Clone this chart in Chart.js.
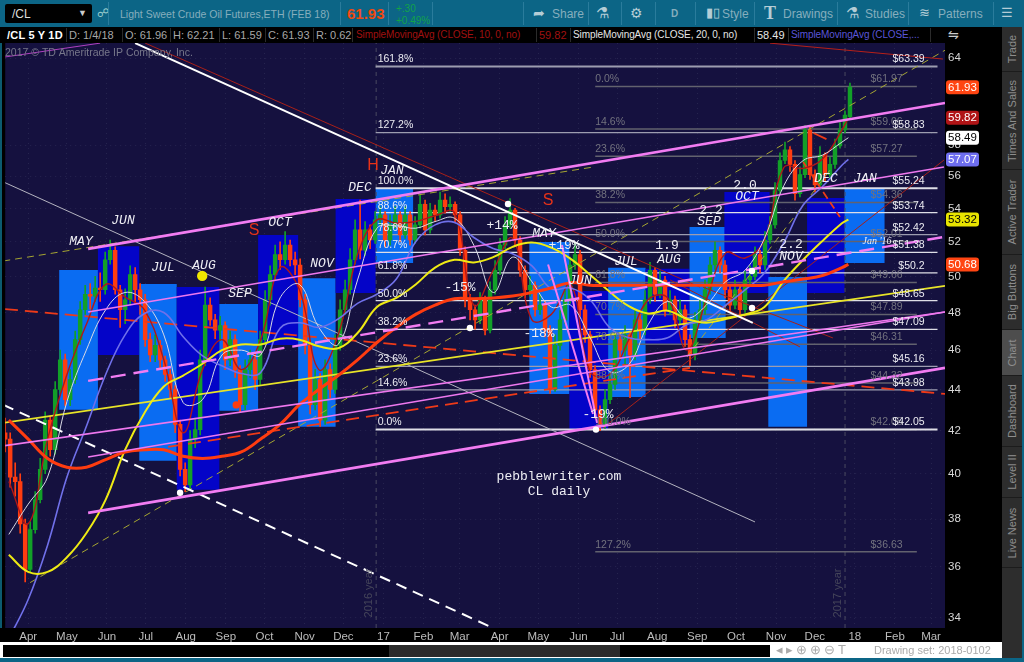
<!DOCTYPE html>
<html>
<head>
<meta charset="utf-8">
<style>
  html, body { margin: 0; padding: 0; background: #000; }
  #frame { position: relative; width: 1024px; height: 662px; overflow: hidden; font-family: "Liberation Sans", sans-serif; }
  canvas { position: absolute; left: 0; top: 0; }
  .abs { position: absolute; white-space: nowrap; }
  #toolbar { left: 0; top: 0; width: 1024px; height: 27px; background: #0c6586; color: #86aebd; font-size: 12px; }
  #toolbar .sep { position: absolute; top: 2px; width: 1px; height: 23px; background: #2a7c9c; }
  #toolbar span { position: absolute; top: 7px; white-space: nowrap; }
  #legend { left: 0; top: 27px; width: 1002px; height: 16px; background: #000; font-size: 11px; color: #a8a8a8; }
  #legend span { position: absolute; top: 1px; height: 14px; line-height: 14px; white-space: nowrap; }
  #legend span.sma { font-size: 10px; letter-spacing: -.1px; }
  #legend i { position: absolute; top: 1px; width: 1px; height: 14px; background: #2b2b2b; }
  #side { left: 1002px; top: 27px; width: 20px; height: 635px; background: #2d2d2d; }
  #strip { left: 1022px; top: 0; width: 2px; height: 662px; background: #0c6586; }
  #side div { position: absolute; left: 0; width: 20px; border-bottom: 1px solid #1c1c1c; box-sizing: border-box; }
  #side span { position: absolute; left: 10px; top: 50%; transform: translate(-50%, -50%) rotate(-90deg); font-size: 11px; color: #8d8d8d; white-space: nowrap; }
  #bottom { left: 0; top: 642px; width: 1002px; height: 16px; background: #fff; }
  #track { position: absolute; left: 3px; top: 3px; width: 767px; height: 12px; background: #000; }
  #thumb { position: absolute; left: 386px; top: 0; width: 231px; height: 12px; background: #2b2b2b; }
  #dset { position: absolute; left: 874px; top: 2px; font-size: 11px; color: #aaa; }
  #tools { position: absolute; left: 776px; top: 0; font-size: 13px; color: #aaa; letter-spacing: 3px; }
  #teal { left: 0; top: 658px; width: 1024px; height: 4px; background: #0c6586; }
  #leftedge { left: 0; top: 43px; width: 2px; height: 585px; background: #0c5a70; }
</style>
</head>
<body>
<div id="frame">
  <canvas id="chart" width="1024" height="662"></canvas>
  <div class="abs" id="leftedge"></div>
  <div class="abs" id="toolbar">
    <div style="position:absolute;left:5px;top:4px;width:87px;height:19px;background:#000;border-radius:2px"></div>
    <span style="left:12px;top:7px;color:#ddd;font-size:12px">/CL</span>
    <span style="left:78px;top:8px;color:#ccc;font-size:9px">&#9660;</span>
    <span style="left:97px;top:6px;color:#9cc;font-size:12px">&#9741;</span>
    <div class="sep" style="left:108px"></div>
    <span style="left:120px;top:8px;font-size:10.5px">Light Sweet Crude Oil Futures,ETH (FEB 18)</span>
    <div class="sep" style="left:340px"></div>
    <span style="left:347px;top:5px;color:#f04a10;font-size:15px;font-weight:bold">61.93</span>
    <div class="sep" style="left:388px"></div>
    <span style="left:396px;top:3px;color:#12a24a;font-size:10px">+.30</span>
    <span style="left:396px;top:15px;color:#12a24a;font-size:10px">+0.49%</span>
    <div class="sep" style="left:432px"></div>
    <div class="sep" style="left:523px"></div>
    <span style="left:533px;top:5px;font-size:14px;color:#b5cdd6">&#10150;</span>
    <span style="left:552px">Share</span>
    <div class="sep" style="left:588px"></div>
    <span style="left:596px;top:4px;font-size:15px;color:#b5cdd6;font-family:'DejaVu Sans'">&#9879;</span>
    <div class="sep" style="left:621px"></div>
    <span style="left:630px;top:5px;font-size:14px;color:#b5cdd6;font-family:'DejaVu Sans'">&#9881;</span>
    <div class="sep" style="left:655px"></div>
    <span style="left:671px;font-weight:bold;font-size:10px;top:8px">D</span>
    <div class="sep" style="left:695px"></div>
    <span style="left:706px;top:5px;font-size:13px;color:#b5cdd6">&#9646;&#9647;</span>
    <span style="left:722px">Style</span>
    <div class="sep" style="left:754px"></div>
    <span style="left:764px;top:3px;font-size:18px;font-weight:bold;color:#b5cdd6;font-family:'Liberation Serif'">T</span>
    <span style="left:783px">Drawings</span>
    <div class="sep" style="left:837px"></div>
    <span style="left:846px;top:4px;font-size:15px;color:#b5cdd6;font-family:'DejaVu Sans'">&#9879;</span>
    <span style="left:865px">Studies</span>
    <div class="sep" style="left:908px"></div>
    <span style="left:919px;top:5px;font-size:13px;color:#b5cdd6;font-family:'DejaVu Sans'">&#8779;</span>
    <span style="left:938px">Patterns</span>
    <div class="sep" style="left:993px"></div>
    <span style="left:1001px;top:5px;font-size:13px;color:#b5cdd6;font-family:'DejaVu Sans'">&#9776;</span>
  </div>
  <div class="abs" id="legend">
    <span style="left:7px;color:#fff;font-weight:bold;letter-spacing:.2px">/CL 5 Y 1D</span><i style="left:66px"></i>
    <span style="left:69px">D: 1/4/18</span><i style="left:122px"></i>
    <span style="left:125px">O: 61.96</span><i style="left:170px"></i>
    <span style="left:173px">H: 62.21</span><i style="left:219px"></i>
    <span style="left:222px">L: 61.59</span><i style="left:265px"></i>
    <span style="left:268px">C: 61.93</span><i style="left:313px"></i>
    <span style="left:316px">R: 0.62</span><i style="left:352px"></i>
    <span class="sma" style="left:356px;color:#a01010">SimpleMovingAvg (CLOSE, 10, 0, no)</span><i style="left:536px"></i>
    <span style="left:539px;color:#a01010">59.82</span><i style="left:570px"></i>
    <span class="sma" style="left:573px;color:#e6e6e6">SimpleMovingAvg (CLOSE, 20, 0, no)</span><i style="left:754px"></i>
    <span style="left:757px;color:#e6e6e6">58.49</span><i style="left:788px"></i>
    <span class="sma" style="left:791px;color:#5a55d8">SimpleMovingAvg (CLOSE,...</span><i style="left:930px"></i>
    <span style="left:948px;color:#ccc;font-size:13px;font-family:'DejaVu Sans'">&#8651;</span>
  </div>
  <div class="abs" id="side">
    <div style="top:0;height:45px"><span>Trade</span></div>
    <div style="top:45px;height:98px"><span>Times And Sales</span></div>
    <div style="top:143px;height:85px"><span>Active Trader</span></div>
    <div style="top:228px;height:75px"><span>Big Buttons</span></div>
    <div style="top:303px;height:46px;background:#4d4d4d"><span>Chart</span></div>
    <div style="top:349px;height:71px"><span>Dashboard</span></div>
    <div style="top:420px;height:51px"><span>Level II</span></div>
    <div style="top:471px;height:70px"><span>Live News</span></div>
  </div>
  <div class="abs" id="strip"></div>
  <div class="abs" id="bottom">
    <div id="track"><div id="thumb"></div></div>
    <div id="tools">&#9666;&#9656;&#8853;&#8853;&#8854;T</div>
    <div id="dset">Drawing set: 2018-0102</div>
  </div>
  <div class="abs" id="teal"></div>
</div>

<script src="https://cdn.jsdelivr.net/npm/chart.js@4/dist/chart.umd.min.js"></script>
<script>
// x values are days counted from 1 Apr 2016, y values are prices
const monthTickDays = [0, 30, 61, 91, 122, 153, 183, 214, 244, 275, 306, 334, 365, 395, 426, 456, 487, 518, 548, 579, 609, 640, 671, 699];
const monthTickLabels = ['Apr', 'May', 'Jun', 'Jul', 'Aug', 'Sep', 'Oct', 'Nov', 'Dec', '17', 'Feb', 'Mar', 'Apr', 'May', 'Jun', 'Jul', 'Aug', 'Sep', 'Oct', 'Nov', 'Dec', '18', 'Feb', 'Mar'];
const priceTicks = [34, 36, 38, 40, 42, 44, 46, 48, 50, 52, 54, 56, 58, 64];

// monthly range boxes
const boxStart = [24, 54, 86, 115, 148, 178, 209, 238, 269, 388, 419, 449, 478, 512, 539, 573, 603, 632];
const boxEnd = [54, 86, 115, 148, 178, 209, 238, 269, 298, 419, 449, 478, 512, 540, 574, 603, 632, 663];
const boxHigh = [50.37, 51.74, 49.58, 49.4, 48.47, 52.4, 49.9, 54.57, 55.26, 51.98, 49.18, 50.49, 50.43, 52.88, 55, 49.97, 54.63, 55.26];
const boxLow = [43, 45.75, 40.59, 39.28, 42.95, 46.27, 42.18, 49.07, 50.77, 43.78, 42.08, 43.63, 46.27, 46.64, 49.07, 42.18, 49.07, 50.77];
const boxIsDark = [false, true, false, true, false, true, false, true, false, false, true, false, true, false, true, false, true, false];

// fibonacci levels
const fibPrices = [63.39, 58.83, 55.24, 53.74, 52.42, 51.38, 50.2, 48.65, 47.09, 45.16, 43.98, 42.05];
const fibPercents = ['161.8%', '127.2%', '100.0%', '88.6%', '78.6%', '70.7%', '61.8%', '50.0%', '38.2%', '23.6%', '14.6%', '0.0%'];
const fibTags = ['$63.39', '$58.83', '$55.24', '$53.74', '$52.42', '$51.38', '$50.2', '$48.65', '$47.09', '$45.16', '$43.98', '$42.05'];
const fibSpan = [269, 704];
const fib2Prices = [61.97, 59.06, 57.27, 54.36, 52.01, 49.66, 47.89, 46.31, 44.32, 42.05, 36.63];
const fib2Percents = ['0.0%', '14.6%', '23.6%', '38.2%', '50.0%', '61.8%', '70.7%', '78.6%', '88.6%', '100.0%', '127.2%'];
const fib2Tags = ['$61.97', '$59.06', '$57.27', '$54.36', '$52.01', '$49.66', '$47.89', '$46.31', '$44.32', '$42.05', '$36.63'];
const fib2Span = [439, 688];

// daily bars, thinned out
const candleFirstDay = -17.8;
const candleStep = 3.87;
const candleOpen = [
  41.9,41.6,39.85,39.65,37.8,35.9,37.55,38.85,40.2,42.5,
  41.1,44,45.5,43.5,44.5,46.55,48.15,49,48.9,49.35,
  49.25,50.95,51.5,49.25,48.15,48.7,50.1,49.25,48.7,46.55,
  45.75,46.25,45.5,44.75,44,42.3,40.2,39.5,41.6,42.05,
  45.5,48.4,47.6,47.05,47.3,45.5,46.55,45,43.25,45,
  45.5,44.5,46.55,48.7,50.1,51.25,50.95,51.8,50.95,50.65,
  48.7,46.25,43.25,44.5,42.5,45,44,46.25,48.15,49.25,
  50.95,52.7,51.5,52.7,52.1,53.3,53.6,52.1,53,53.6,
  52.4,53.6,52.1,53,54.25,52.7,53.9,53.6,54.5,54.1,
  54.25,53.6,51.5,48.7,48.15,47.6,48.7,47.05,49.25,50.35,
  51.8,53,53.9,52.1,50.35,49.25,49.5,48.15,48.4,47.05,
  44,46.25,47.6,48.7,50.65,51.25,48.15,46.8,45,43,
  42.3,43.5,44.25,46.55,46,46.8,45.75,47.6,47.05,48.7,
  50.35,49,49.8,48.15,48.7,47.6,48.15,46.55,45.75,47.6,
  48.15,49.25,50.65,51.5,50.65,49.25,48.4,49.25,48.15,49.8,
  50,51.25,50.65,52.1,53,55.1,57,57.7,56.75,54.9,
  56.1,59,56.1,55.45,57.35,56.1,56.75,57.95,59,59.9];
const candleClose = [
  41.6,39.85,39.65,37.8,35.9,37.55,38.85,40.2,42.5,41.1,
  44,45.5,43.5,44.5,46.55,48.15,49,48.9,49.35,49.25,
  50.95,51.5,49.25,48.15,48.7,50.1,49.25,48.7,46.55,45.75,
  46.25,45.5,44.75,44,42.3,40.2,39.5,41.6,42.05,45.5,
  48.4,47.6,47.05,47.3,45.5,46.55,45,43.25,45,45.5,
  44.5,46.55,48.7,50.1,51.25,50.95,51.8,50.95,50.65,48.7,
  46.25,43.25,44.5,42.5,45,44,46.25,48.15,49.25,50.95,
  52.7,51.5,52.7,52.1,53.3,53.6,52.1,53,53.6,52.4,
  53.6,52.1,53,54.25,52.7,53.9,53.6,54.5,54.1,54.25,
  53.6,51.5,48.7,48.15,47.6,48.7,47.05,49.25,50.35,51.8,
  53,53.9,52.1,50.35,49.25,49.5,48.15,48.4,47.05,44,
  46.25,47.6,48.7,50.65,51.25,48.15,46.8,45,43,42.3,
  43.5,44.25,46.55,46,46.8,45.75,47.6,47.05,48.7,50.35,
  49,49.8,48.15,48.7,47.6,48.15,46.55,45.75,47.6,48.15,
  49.25,50.65,51.5,50.65,49.25,48.4,49.25,48.15,49.8,50,
  51.25,50.65,52.1,53,55.1,57,57.7,56.75,54.9,56.1,
  59,56.1,55.45,57.35,56.1,56.75,57.95,59,60,61.93];
const candleLow = [
  41,39.4,39,37.4,35.4,35.8,37.4,38.7,40,40.8,
  40.9,43.8,43.2,43.2,44.3,46.3,47.9,48.2,48.6,48.6,
  49,50.7,49,47.2,47.4,48.4,48.5,47.9,46.2,45.4,
  45.4,45,44.4,43.6,41.9,39.9,39.2,39.3,41.2,41.8,
  45.2,47.3,46.6,46.5,45,45.2,44.6,42.9,43,44.6,
  44,44.2,46.3,48.4,49.8,50.4,50.7,50.6,50.1,48.3,
  45.8,42.8,43,42.2,42.3,43.6,43.8,46,47.9,49,
  50.7,51,51.2,51.6,51.9,53,51.7,51.8,52.8,52,
  52.2,51.8,51.9,52.8,52.4,52.5,53.2,53.4,53.7,53.8,
  53.2,51.2,48.3,47.6,47.1,47.4,46.8,46.9,49,50.1,
  51.6,52.8,51.8,50,48.8,48.9,47.8,47.9,46.7,43.8,
  43.9,46,47.4,48.5,50.4,47.8,46.4,44.6,42.6,42,
  42.1,43.3,44,45.6,45.2,43.6,45.5,46.6,46.8,48.5,
  48.6,48.8,47.8,47.9,47.2,47.4,46.2,45.2,45.5,47.4,
  47.9,49,50.4,50.2,48.8,48,48.2,47.8,48,49.5,
  49.8,50.2,50.4,51.9,52.8,54.9,56.8,56.3,54.5,54.7,
  55.9,55.8,55,55.3,55.7,55.9,56.5,57.8,58.8,59.8];
const candleHigh = [
  42.6,41.9,40.5,40,38,37.9,39.2,40.7,42.9,42.7,
  44.4,46,45.8,45,47,48.6,49.5,49.6,50,50.2,
  51.4,52.1,51.7,49.5,49.3,50.6,50.5,49.6,49,46.9,
  46.8,46.5,45.7,45,44.2,42.5,40.5,42,42.6,46,
  49.4,48.8,47.9,47.8,47.5,47,46.8,45.2,45.5,46,
  45.8,47,49.2,50.6,51.8,52,52.6,52.1,51.4,51,
  49,46.5,45,44.8,45.5,45.3,46.8,48.7,49.8,51.6,
  53.3,54.5,53.2,53,53.8,54.1,53.8,53.6,54.1,53.8,
  54.1,53.8,53.5,54.8,54.5,54.3,54.2,55,54.9,54.7,
  54.4,53.8,51.7,49,48.4,49.1,48.9,49.7,50.9,52.2,
  53.5,54.6,54,52.3,50.6,50,49.7,49,48.6,47.3,
  46.8,48.1,49.2,51.1,51.9,51.5,48.4,47,45.2,43.2,
  44,44.8,47,46.9,47.3,47,48.1,47.9,49.2,50.8,
  50.5,50.3,50,49.2,48.9,48.7,48.4,46.8,48,48.7,
  49.8,51.1,52,51.7,50.9,49.5,49.8,49.5,50.3,50.6,
  51.7,51.5,52.6,53.5,55.6,57.5,58.2,57.9,57,56.6,
  59.3,59.2,56.4,57.9,57.5,57.2,58.4,59.5,60.3,62.21];

// moving averages, read every 15 days
const smaDays = [-15, 0, 15, 30, 45, 60, 75, 90, 105, 120, 135, 150, 165, 180, 195, 210, 225, 240, 255, 270, 285, 300, 315, 330, 345, 360, 375, 390, 405, 420, 435, 450, 465, 480, 495, 510, 525, 540, 555, 570, 585, 600, 615, 630, 635];
const sma10 = [39.65, 37.8, 41.6, 44.75, 47.35, 49.55, 48.85, 48.15, 45.5, 41.9, 45, 46.55, 45, 46.55, 50.5, 49.25, 45, 46.8, 51.25, 53.3, 53.1, 53.2, 53.55, 53.75, 48.4, 50.35, 52.2, 47.6, 47.9, 49.55, 44.9, 44.75, 46.55, 48.7, 48.8, 46, 48.7, 51.35, 51.05, 52.1, 56.55, 56.5, 57.1, 59, 59.82];
const sma20 = [37.35, 38.65, 39.85, 43.4, 46, 48.15, 49.1, 48.6, 46.8, 43.35, 43.5, 45.75, 46, 45.75, 48.8, 49.55, 47.2, 46.3, 49.8, 52.8, 52.95, 52.8, 53.2, 53.4, 51.8, 49.1, 51.1, 49.7, 48.3, 48.4, 46.65, 44.9, 45.25, 47.35, 48.6, 47.7, 48.4, 49.7, 50.35, 52.2, 55.4, 57, 57.35, 58.2, 58.49];
const sma50 = [33.2, 34.7, 36.9, 39.85, 42.2, 44.75, 46.8, 47.95, 48, 46.7, 45.7, 45.2, 44.8, 44.85, 47.15, 47.45, 47.2, 47.65, 48.5, 49, 49.85, 52, 53, 53.15, 52.25, 51.6, 51.3, 50.6, 49.3, 49.35, 48.7, 47.2, 46.65, 46.55, 46.65, 47.35, 47.6, 48.4, 49.25, 50.2, 51.95, 54.2, 55.35, 56.7, 57.07];
const sma100 = [36.5, 35.8, 35.8, 36.4, 37.4, 38.85, 41.1, 42.85, 44.15, 44.7, 45.3, 46, 46.3, 46.3, 46.6, 46.55, 46.2, 46.1, 46.9, 48.3, 48.8, 49.55, 50.5, 50.95, 50.8, 51.1, 51.7, 51.95, 51.65, 51, 50.1, 49.15, 48.35, 47.95, 48.1, 47.65, 47.45, 47.65, 47.9, 48.3, 49.75, 50.95, 52.05, 53.1, 53.32];
const sma200 = [42.5, 41.6, 40.7, 40.3, 40.3, 40.65, 41, 41.1, 41.1, 40.8, 40.7, 40.8, 41, 41.6, 42.3, 43.25, 44, 44.7, 45.5, 46.4, 47.2, 47.9, 48.4, 48.75, 48.75, 48.8, 48.9, 49.1, 49.35, 49.65, 49.5, 49.5, 49.5, 49.5, 49.5, 49.5, 49.5, 49.5, 49.5, 49.5, 49.7, 49.85, 50.05, 50.5, 50.68];

// drawn trend lines, [day, price] at each end
const channelUpper = [[46.4, 51.58], [709.8, 60.83]];
const channelMiddle = [[46.4, 48.03], [709, 56.58]];
const channelDashed = [[46.4, 44.43], [709, 52.28]];
const channelLowerA = [[-18.6, 41.29], [709.8, 48.03]];
const channelLowerB = [[46.4, 40.77], [709.8, 48.03]];
const channelBase = [[46.4, 38.27], [709.8, 45.09]];
const steepPinkA = [[413.3, 51.81], [440.4, 42.37]];
const steepPinkB = [[402.5, 50.68], [437.3, 42.8]];
const yellowLine = [[-19.3, 42.37], [709.8, 49.47]];
const oliveLong = [[1.5, 35.37], [710, 64.58]];
const oliveUpper = [[-19.3, 50.88], [437.3, 56.58]];
const oliveShort = [[510, 45.65], [620.8, 56.39]];
const whiteFall = [[82.8, 65.09], [561, 47.44]];
const greyFall = [[-19.3, 55.64], [562.7, 37.88]];
const whiteDashFall = [[-19.3, 43.24], [360, 33.6]];
const redDashUpper = [[-18, 48.19], [709.8, 43.78]];
const redDashLower = [[108.4, 41.24], [512.4, 45.09]];
const redDashShortA = [[600, 56.9], [628.5, 53.47]];
const redDashShortB = [[608, 58.8], [618, 58.4]];
const redThinA = [[90.6, 65.09], [520, 49.4]];
const redThinB = [[574.3, 65.09], [708.2, 63.93]];
const redThinC = [[445, 42.13], [709, 57.03]];
const redThinD = [[497, 49.8], [597.5, 46.17]];
const redThinE = [[522.4, 49.4], [623, 46.64]];
const purpleTop = [[-18.6, 64.07], [55.7, 65.09]];
const yearLine2016 = [[269.4, 33.6], [269.4, 65.1]];
const yearLine2017 = [[632.4, 33.6], [632.4, 65.1]];

// marked pivots
const whitePivots = [[117.6, 39.15], [342, 47.17], [371.5, 54.27], [439.6, 42.05], [560.4, 50.31], [560.4, 48.25]];
const yellowPivot = [[134.7, 50.03]];
const redPivot = [[161, 43.24]];

// last-value tags on the price axis
const tagValues = [61.93, 59.82, 58.49, 57.07, 53.32, 50.68];
const tagFills = ['#ff4512', '#b01416', '#ffffff', '#6e6ef0', '#e8e400', '#ff4512'];
const tagInks = ['#fff', '#fff', '#000', '#fff', '#000', '#fff'];

// text written on the chart
const monthNotes = [
  ['MAY', 81, 242], ['JUN', 123, 221], ['JUL', 163, 268], ['AUG', 204, 266], ['SEP', 240, 294],
  ['OCT', 280, 223], ['NOV', 322, 264], ['DEC', 360, 188], ['JAN', 392, 171], ['MAY', 544, 234],
  ['JUN', 580, 281], ['JUL', 626, 262], ['AUG', 669, 260], ['SEP', 709, 222], ['OCT', 747, 197],
  ['NOV', 791, 257], ['DEC', 826, 179], ['JAN', 865, 179]];
const plainNotes = [
  ['+14%', 502, 226], ['+19%', 564, 246], ['-15%', 460, 288], ['-18%', 539, 334], ['-19%', 598, 415],
  ['1.9', 667, 246], ['2.2', 711, 211], ['2.0', 745, 186], ['2.2', 791, 245],
  ['pebblewriter.com', 559, 477], ['CL daily', 559, 492]];
const redNotes = [['H', 373, 166], ['S', 254, 231], ['S', 548, 201]];

const dayOfCandle = i => candleFirstDay + i * candleStep;
const toPoints = pairs => pairs.map(p => ({ x: p[0], y: p[1] }));

function lineSet(pairs, color, width, dash) {
  return { type: 'line', data: toPoints(pairs), borderColor: color, borderWidth: width, borderDash: dash || [], pointRadius: 0, tension: 0, fill: false };
}
function smaSet(values, color, width) {
  return {
    type: 'line', data: values.map((v, i) => ({ x: smaDays[i], y: v })), borderColor: color, borderWidth: width,
    pointRadius: 0, tension: 0.4, fill: false
  };
}
function dotSet(pairs, color, radius) {
  return { type: 'line', data: toPoints(pairs), showLine: false, pointRadius: radius, pointBackgroundColor: color, pointBorderWidth: 0 };
}

const datasets = [];

// back to front
boxStart.forEach((start, i) => {
  datasets.push({
    type: 'line',
    data: [{ x: start, y: boxLow[i] }, { x: start, y: boxHigh[i] }, { x: boxEnd[i], y: boxHigh[i] }, { x: boxEnd[i], y: boxLow[i] }],
    borderWidth: 0, borderColor: 'transparent', pointRadius: 0, tension: 0,
    fill: 'shape', backgroundColor: boxIsDark[i] ? '#0404c8' : '#0a6cf2'
  });
});
datasets.push(lineSet(yearLine2016, '#4a4a60', 1, [4, 4]));
datasets.push(lineSet(yearLine2017, '#4a4a60', 1, [4, 4]));

fib2Prices.forEach(p => {
  datasets.push(lineSet([[fib2Span[0], p], [fib2Span[1], p]], '#62626e', 1.5));
});
fibPrices.forEach((p, i) => {
  const heavy = p === 55.24 || p === 42.05 || p === 63.39;
  const dim = p === 63.39 || p === 45.16 || p === 43.98 || p === 58.83 || p === 52.42;
  datasets.push(lineSet([[fibSpan[0], p], [fibSpan[1], p]], dim ? '#9d9db0' : '#dedee6', heavy ? 2 : 1.3));
});

const candleUp = candleClose.map((c, i) => c >= candleOpen[i]);
datasets.push({
  type: 'bar', grouped: false, barThickness: 1, borderWidth: 0,
  data: candleClose.map((c, i) => ({ x: dayOfCandle(i), y: [candleLow[i], candleHigh[i]] })),
  backgroundColor: candleUp.map(up => up ? '#12a028' : '#ff3c10')
});
datasets.push({
  type: 'bar', grouped: false, barThickness: 3.8, borderWidth: 0,
  data: candleClose.map((c, i) => ({ x: dayOfCandle(i), y: [candleOpen[i], candleClose[i]] })),
  backgroundColor: candleUp.map(up => up ? '#12a028' : '#ff3c10')
});

datasets.push(lineSet(oliveLong, '#a6a632', 1, [7, 5]));
datasets.push(lineSet(oliveUpper, '#a6a632', 1, [7, 5]));
datasets.push(lineSet(oliveShort, '#a6a632', 1, [7, 5]));
datasets.push(lineSet(redThinA, '#a82018', 1));
datasets.push(lineSet(redThinB, '#b82018', 1));
datasets.push(lineSet(redThinC, '#a82018', 1));
datasets.push(lineSet(redThinD, '#a82018', 1));
datasets.push(lineSet(redThinE, '#a82018', 1));
datasets.push(lineSet(purpleTop, '#b040c0', 1));
datasets.push(lineSet(greyFall, '#b4b4c0', 1));
datasets.push(lineSet(whiteDashFall, '#ffffff', 2, [11, 7]));
datasets.push(lineSet(redDashUpper, '#ee3a18', 1.8, [13, 7]));
datasets.push(lineSet(redDashLower, '#ee3a18', 1.8, [13, 7]));
datasets.push(lineSet(redDashShortA, '#ee3a18', 1.8, [8, 4]));
datasets.push(lineSet(redDashShortB, '#ee3a18', 1.8));
datasets.push(lineSet(yellowLine, '#e8e428', 1.8));

datasets.push(smaSet(sma10, '#b01618', 1.4));
datasets.push(smaSet(sma20, '#d9d9e4', 1));
datasets.push(smaSet(sma50, '#7070ea', 1.6));
datasets.push(smaSet(sma100, '#eeea14', 2));
datasets.push(smaSet(sma200, '#ff3c10', 3));

datasets.push(lineSet(channelLowerA, '#ee78ee', 1.6));
datasets.push(lineSet(channelLowerB, '#ee78ee', 1.6));
datasets.push(lineSet(channelMiddle, '#ee78ee', 1.6));
datasets.push(lineSet(channelUpper, '#f27cf2', 2.6));
datasets.push(lineSet(channelDashed, '#f27cf2', 2.4, [15, 8]));
datasets.push(lineSet(channelBase, '#f27cf2', 2.6));
datasets.push(lineSet(steepPinkA, '#f27cf2', 2));
datasets.push(lineSet(steepPinkB, '#f27cf2', 2));
datasets.push(lineSet(whiteFall, '#ffffff', 2));

datasets.push(dotSet(whitePivots, '#ffffff', 3.2));
datasets.push(dotSet(yellowPivot, '#f0e800', 5.2));
datasets.push(dotSet(redPivot, '#ff3c10', 3.6));

// first in the list draws last, so flip the order numbers
datasets.forEach((d, i) => { d.order = datasets.length - i; });

const backdrop = {
  id: 'backdrop',
  beforeDraw(chart) {
    const { ctx, chartArea: a } = chart;
    ctx.save();
    ctx.fillStyle = '#000';
    ctx.fillRect(0, 0, chart.width, chart.height);
    ctx.fillStyle = '#15113f';
    ctx.fillRect(a.left, a.top, a.right - a.left, a.bottom - a.top);
    ctx.restore();
  }
};

const writing = {
  id: 'writing',
  afterDatasetsDraw(chart) {
    const { ctx, scales: { x, y } } = chart;
    const levelY = p => y.getPixelForValue(p) - 7;
    ctx.save();
    ctx.textBaseline = 'middle';

    // copyright
    ctx.font = '10.5px "Liberation Sans"';
    ctx.fillStyle = '#77778a';
    ctx.fillText('2017 \u00a9 TD Ameritrade IP Company, Inc.', 5, 53);

    // second fib set, dim, sits under the rest
    ctx.font = '10.5px "Liberation Sans"';
    ctx.fillStyle = '#72727e';
    fib2Percents.forEach((t, i) => ctx.fillText(t, x.getPixelForValue(fib2Span[0]), levelY(fib2Prices[i])));
    ctx.textAlign = 'right';
    fib2Tags.forEach((t, i) => ctx.fillText(t, x.getPixelForValue(677), levelY(fib2Prices[i])));

    // main fib set
    ctx.fillStyle = '#ececf2';
    fibTags.forEach((t, i) => ctx.fillText(t, x.getPixelForValue(694), levelY(fibPrices[i])));
    ctx.textAlign = 'left';
    fibPercents.forEach((t, i) => ctx.fillText(t, x.getPixelForValue(fibSpan[0]) + 2, levelY(fibPrices[i])));

    ctx.textAlign = 'center';
    ctx.font = 'italic 13px "Liberation Mono"';
    ctx.fillStyle = '#eeeef4';
    monthNotes.forEach(n => ctx.fillText(n[0], n[1], n[2]));
    ctx.font = 'italic 10px "Liberation Serif"';
    ctx.fillText("Jan '16", 877, 241);

    ctx.font = '13px "Liberation Mono"';
    plainNotes.forEach(n => ctx.fillText(n[0], n[1], n[2]));

    ctx.font = '16px "Liberation Sans"';
    ctx.fillStyle = '#e83218';
    redNotes.forEach(n => ctx.fillText(n[0], n[1], n[2]));

    // year marks
    ctx.font = '11px "Liberation Sans"';
    ctx.fillStyle = '#45455a';
    [['2016 year', 369], ['2017 year', 838]].forEach(m => {
      ctx.save();
      ctx.translate(m[1], 593);
      ctx.rotate(-Math.PI / 2);
      ctx.fillText(m[0], 0, 0);
      ctx.restore();
    });

    // last-value tags
    ctx.font = '11.5px "Liberation Sans"';
    tagValues.forEach((v, i) => {
      const py = y.getPixelForValue(v);
      ctx.fillStyle = tagFills[i];
      ctx.beginPath();
      ctx.roundRect(946, py - 7, 33, 14, 3);
      ctx.fill();
      ctx.fillStyle = tagInks[i];
      ctx.fillText(v.toFixed(2), 962.5, py + 0.5);
    });
    ctx.restore();
  }
};

new Chart(document.getElementById('chart'), {
  type: 'line',
  data: { datasets },
  plugins: [backdrop, writing],
  options: {
    responsive: false,
    animation: false,
    devicePixelRatio: 1,
    layout: { padding: { left: 5, top: 43, right: 0, bottom: 0 } },
    plugins: { legend: { display: false }, tooltip: { enabled: false } },
    scales: {
      x: {
        type: 'linear', min: -17.8, max: 709.8, bounds: 'data', offset: false,
        afterBuildTicks(scale) { scale.ticks = monthTickDays.map(v => ({ value: v })); },
        afterFit(scale) { scale.height = 34; },
        grid: { color: '#26244f', lineWidth: 1, drawTicks: false, offset: false },
        border: { display: false, dash: [1, 4] },
        ticks: {
          autoSkip: false, maxRotation: 0, padding: 2, color: '#bcbcbc',
          font: { family: 'Liberation Sans', size: 11.5 },
          callback: (v) => monthTickLabels[monthTickDays.indexOf(v)]
        }
      },
      y: {
        type: 'logarithmic', position: 'right', min: 33.6, max: 65.1,
        afterBuildTicks(scale) { scale.ticks = priceTicks.map(v => ({ value: v })); },
        afterFit(scale) { scale.width = 79; },
        grid: { color: '#26244f', lineWidth: 1, drawTicks: false },
        border: { display: false, dash: [1, 4] },
        ticks: {
          autoSkip: false, padding: 3, color: '#d8d8d8',
          font: { family: 'Liberation Sans', size: 11.5 },
          callback: (v) => String(v)
        }
      }
    }
  }
});
</script>
</body>
</html>
